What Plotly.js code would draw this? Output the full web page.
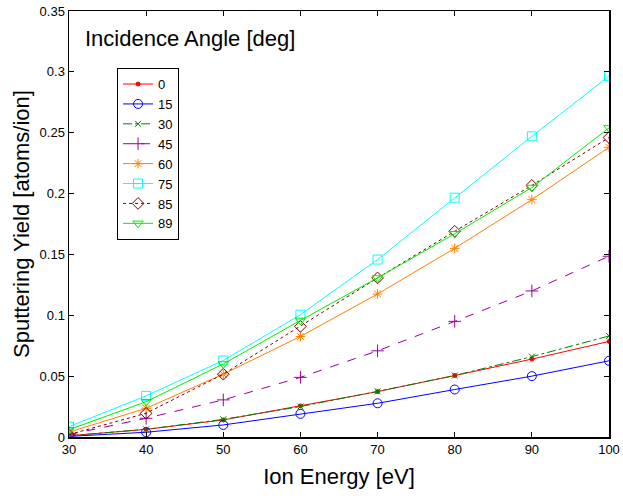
<!DOCTYPE html>
<html>
<head>
<meta charset="utf-8">
<script src="https://cdn.plot.ly/plotly-3.0.1.min.js"></script>
<style>html,body{margin:0;padding:0;background:#fff;}#chart{width:623px;height:499px;}</style>
</head>
<body>
<div id="chart"></div>
<script>
const energy = [30, 40, 50, 60, 70, 80, 90, 100];
const angleNames = ["0", "15", "30", "45", "60", "75", "85", "89"];
const yield0  = [0.001, 0.0063, 0.0140, 0.0255, 0.0373, 0.0505, 0.0640, 0.0785];
const yield15 = [0.0005, 0.0039, 0.0099, 0.0190, 0.0277, 0.0390, 0.0500, 0.0626];
const yield30 = [0.001, 0.0063, 0.0145, 0.0250, 0.0375, 0.0505, 0.0660, 0.0830];
const yield45 = [0.002, 0.0154, 0.0305, 0.0490, 0.0708, 0.0950, 0.1200, 0.1485];
const yield60 = [0.004, 0.0236, 0.0516, 0.0826, 0.1175, 0.1550, 0.1950, 0.2380];
const yield75 = [0.0085, 0.0338, 0.0629, 0.1005, 0.1458, 0.1966, 0.2470, 0.2965];
const yield85 = [0.002, 0.0195, 0.0516, 0.0909, 0.1307, 0.1690, 0.2067, 0.2460];
const yield89 = [0.006, 0.0290, 0.0600, 0.0958, 0.1307, 0.1670, 0.2050, 0.2540];
const allYields = [yield0, yield15, yield30, yield45, yield60, yield75, yield85, yield89];

const colors = ["#ff0000", "#0000ff", "#008000", "#990099", "#ff8000", "#00ffff", "#800000", "#00ee00"];
const symbols = ["circle", "circle-open", "x-thin-open", "cross-thin-open", "asterisk-open", "square-open", "diamond-open", "triangle-down-open"];
const msizes = [4, 9, 6, 9, 8, 9, 9, 9];
const dashes = ["solid", "solid", "dashdot", "dash", "solid", "solid", "dot", "solid"];

const traces = allYields.map((ys, i) => ({
  x: energy, y: ys, name: angleNames[i], type: "scatter", mode: "lines+markers",
  line: {color: colors[i], width: 1, dash: dashes[i]},
  marker: {symbol: symbols[i], size: msizes[i], color: colors[i], line: {color: colors[i], width: 1}}
}));

const font = "Liberation Sans, Arial, sans-serif";
const layout = {
  width: 623, height: 499,
  margin: {l: 69, r: 14, t: 11, b: 62},
  paper_bgcolor: "#fff", plot_bgcolor: "#fff",
  showlegend: true,
  font: {family: font, color: "#000", size: 13},
  xaxis: {
    range: [30, 100], dtick: 10, tick0: 30, ticks: "inside", ticklen: 5, tickcolor: "#000",
    showline: true, linecolor: "#000", linewidth: 1.5, mirror: "ticks", showgrid: false, zeroline: false,
    tickfont: {size: 13, family: font},
    title: {text: "Ion Energy [eV]", font: {size: 22, family: font}, standoff: 12}
  },
  yaxis: {
    range: [0, 0.35], dtick: 0.05, tick0: 0, ticks: "inside", ticklen: 5, tickcolor: "#000",
    showline: true, linecolor: "#000", linewidth: 1.5, mirror: "ticks", showgrid: false, zeroline: false,
    tickfont: {size: 13, family: font},
    title: {text: "Sputtering Yield [atoms/ion]", font: {size: 22, family: font}, standoff: 4}
  },
  legend: {
    x: 0.089, y: 0.866, xanchor: "left", yanchor: "top",
    bordercolor: "#000", borderwidth: 1, bgcolor: "#fff",
    font: {size: 13, family: font}, tracegroupgap: 0, itemwidth: 30
  },
  annotations: [{
    text: "Incidence Angle [deg]", xref: "paper", yref: "paper", x: 0.026, y: 0.935,
    xanchor: "left", yanchor: "middle", showarrow: false, font: {size: 22, family: font}
  }]
};
Plotly.newPlot("chart", traces, layout, {displayModeBar: false, staticPlot: true});
</script>
</body>
</html>
